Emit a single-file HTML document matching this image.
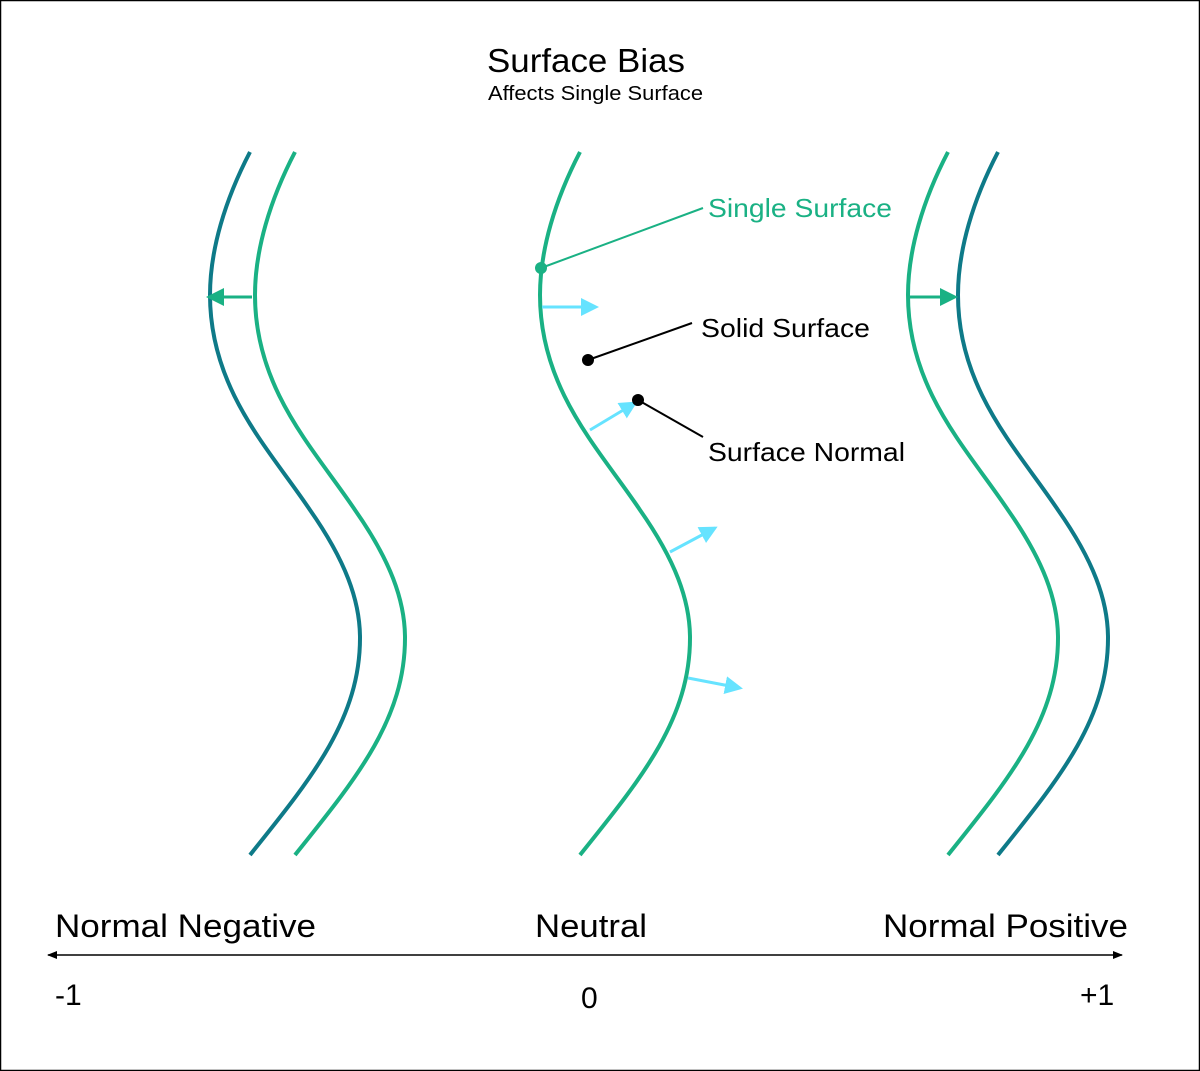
<!DOCTYPE html>
<html><head><style>
html,body{margin:0;padding:0;background:#fff}
svg{display:block}
text{font-family:"Liberation Sans",Arial,sans-serif}
</style></head><body>
<svg width="1200" height="1071" viewBox="0 0 1200 1071" xmlns="http://www.w3.org/2000/svg">
<defs>
<path id="c" d="M580,152 C555,200 540,250 540,295 C540,390 600,450 640,510 C675,560 690,600 690,638 C690,720 640,780 580,855" fill="none" stroke-width="4"/>
<marker id="ag" markerWidth="6" markerHeight="6" refX="5" refY="3" orient="auto" markerUnits="strokeWidth"><path d="M0,0 L6,3 L0,6 z" fill="#1ab184"/></marker>
<marker id="ac" markerWidth="6" markerHeight="6" refX="5" refY="3" orient="auto" markerUnits="strokeWidth"><path d="M0,0 L6,3 L0,6 z" fill="#66e3ff"/></marker>
<marker id="ak" markerWidth="10" markerHeight="8" refX="9" refY="4" orient="auto" markerUnits="userSpaceOnUse"><path d="M0,0 L10,4 L0,8 z" fill="#000"/></marker>
</defs>
<rect x="0.5" y="0.5" width="1199" height="1070" fill="#fff" stroke="#000" stroke-width="1.5"/>
<text x="487" y="72" font-size="33" textLength="198" lengthAdjust="spacingAndGlyphs">Surface Bias</text>
<text x="488" y="100" font-size="20" textLength="215" lengthAdjust="spacingAndGlyphs">Affects Single Surface</text>

<use href="#c" transform="translate(-330,0)" stroke="#0e7a88"/>
<use href="#c" transform="translate(-285,0)" stroke="#1ab184"/>
<use href="#c" stroke="#1ab184"/>
<use href="#c" transform="translate(368,0)" stroke="#1ab184"/>
<use href="#c" transform="translate(418,0)" stroke="#0e7a88"/>

<line x1="252" y1="297" x2="209" y2="297" stroke="#1ab184" stroke-width="3" marker-end="url(#ag)"/>
<line x1="908" y1="297" x2="955" y2="297" stroke="#1ab184" stroke-width="3" marker-end="url(#ag)"/>

<g stroke="#66e3ff" stroke-width="3">
<line x1="542" y1="307" x2="596" y2="307" marker-end="url(#ac)"/>
<line x1="590" y1="430" x2="635" y2="403" marker-end="url(#ac)"/>
<line x1="670" y1="552" x2="715" y2="528" marker-end="url(#ac)"/>
<line x1="688" y1="678" x2="740" y2="688" marker-end="url(#ac)"/>
</g>

<line x1="541" y1="268" x2="703" y2="208" stroke="#1ab184" stroke-width="2"/>
<circle cx="541" cy="268" r="6" fill="#1ab184"/>
<line x1="588" y1="360" x2="692" y2="323" stroke="#000" stroke-width="2"/>
<circle cx="588" cy="360" r="6" fill="#000"/>
<line x1="638" y1="400" x2="703" y2="437" stroke="#000" stroke-width="2"/>
<circle cx="638" cy="400" r="6" fill="#000"/>

<text x="708" y="217" font-size="26" fill="#1ab184" textLength="184" lengthAdjust="spacingAndGlyphs">Single Surface</text>
<text x="701" y="337" font-size="26" textLength="169" lengthAdjust="spacingAndGlyphs">Solid Surface</text>
<text x="708" y="461" font-size="26" textLength="197" lengthAdjust="spacingAndGlyphs">Surface Normal</text>

<text x="55" y="937" font-size="32" textLength="261" lengthAdjust="spacingAndGlyphs">Normal Negative</text>
<text x="535" y="937" font-size="32" textLength="112" lengthAdjust="spacingAndGlyphs">Neutral</text>
<text x="883" y="937" font-size="32" textLength="245" lengthAdjust="spacingAndGlyphs">Normal Positive</text>
<line x1="585" y1="955" x2="1122" y2="955" stroke="#000" stroke-width="1.5" marker-end="url(#ak)"/>
<line x1="585" y1="955" x2="48" y2="955" stroke="#000" stroke-width="1.5" marker-end="url(#ak)"/>
<text x="55" y="1005" font-size="30">-1</text>
<text x="581" y="1008" font-size="30">0</text>
<text x="1080" y="1005" font-size="30">+1</text>
</svg>
</body></html>
